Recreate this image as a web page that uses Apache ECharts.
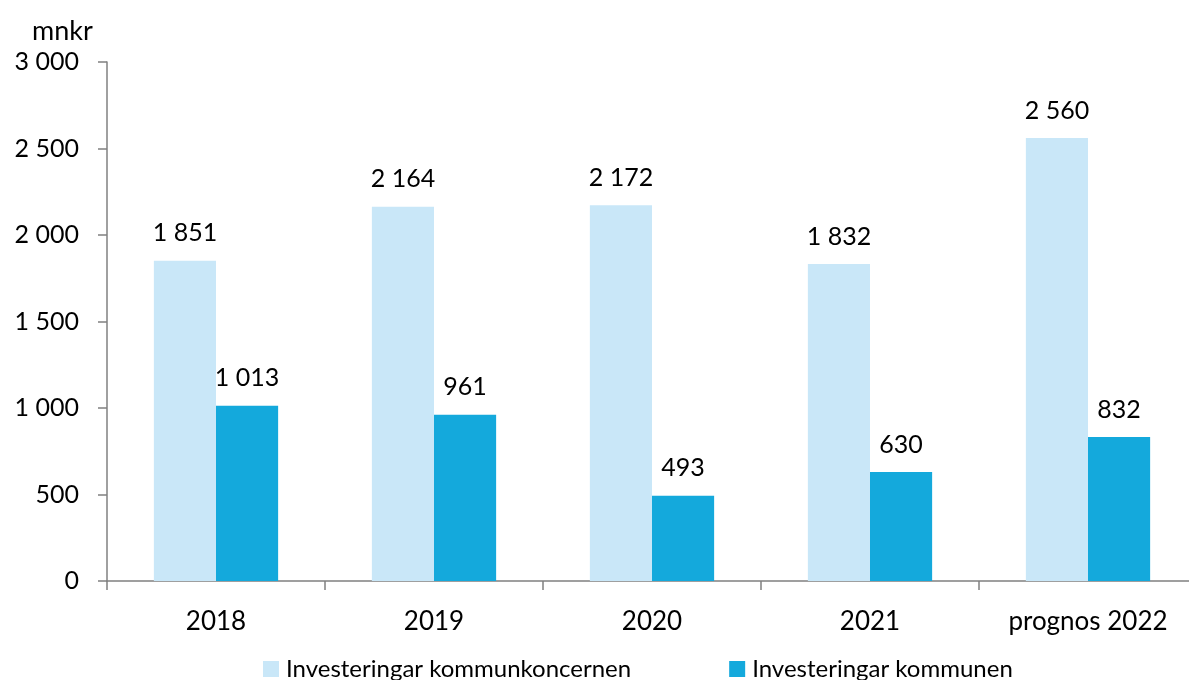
<!DOCTYPE html>
<html>
<head>
<meta charset="utf-8">
<script src="https://cdn.jsdelivr.net/npm/echarts@6/dist/echarts.min.js"></script>
<style>
  html, body { margin: 0; padding: 0; background: #fff; }
  #chart { width: 1189px; height: 680px; }
</style>
</head>
<body>
<div id="chart"></div>
<script>
const categories = ['2018', '2019', '2020', '2021', 'prognos 2022']
const koncernen = [1851, 2164, 2172, 1832, 2560]
const kommunen = [1013, 961, 493, 630, 832]
const yTicks = [0, 500, 1000, 1500, 2000, 2500, 3000]

const fontFamily = 'Lato, "Open Sans", sans-serif'
const fmt = v => String(v).replace(/\B(?=(\d{3})+(?!\d))/g, ' ')

const chart = echarts.init(document.getElementById('chart'))

const labelStyle = {
  show: true,
  position: 'top',
  distance: 15,
  color: '#000',
  fontSize: 25,
  fontFamily,
  formatter: p => fmt(p.value)
}

chart.setOption({
  animation: false,
  textStyle: { fontFamily },
  title: {
    text: 'mnkr',
    left: 27,
    top: 13,
    textStyle: { fontSize: 27, fontWeight: 'normal', color: '#000', fontFamily }
  },
  legend: {
    top: 652,
    left: 258,
    itemWidth: 16,
    itemHeight: 16,
    itemGap: 98,
    icon: 'rect',
    textStyle: { fontSize: 24, color: '#000', fontFamily, padding: [0, 0, 0, 2] },
    data: ['Investeringar kommunkoncernen', 'Investeringar kommunen']
  },
  grid: { left: 107, width: 1090, top: 62, bottom: 99, outerBoundsMode: 'none', containLabel: false },
  xAxis: {
    type: 'category',
    data: categories,
    axisLine: { lineStyle: { color: '#808080', width: 1.5 } },
    axisTick: { show: true, length: 9, lineStyle: { color: '#808080', width: 1.5 } },
    axisLabel: { fontSize: 26, color: '#000', margin: 28, fontFamily }
  },
  yAxis: {
    type: 'value',
    min: yTicks[0],
    max: yTicks[yTicks.length - 1],
    interval: 500,
    axisLine: { show: true, lineStyle: { color: '#808080', width: 1.5 } },
    axisTick: { show: true, length: 9, lineStyle: { color: '#808080', width: 1.5 } },
    splitLine: { show: false },
    axisLabel: { fontSize: 25, color: '#000', margin: 28, fontFamily, formatter: v => fmt(v) }
  },
  series: [
    {
      name: 'Investeringar kommunkoncernen',
      type: 'bar',
      data: koncernen,
      barGap: '0%',
      barCategoryGap: '43%',
      itemStyle: { color: '#C9E7F8' },
      label: labelStyle
    },
    {
      name: 'Investeringar kommunen',
      type: 'bar',
      data: kommunen,
      itemStyle: { color: '#14A9DC' },
      label: labelStyle
    }
  ]
})
</script>
</body>
</html>
